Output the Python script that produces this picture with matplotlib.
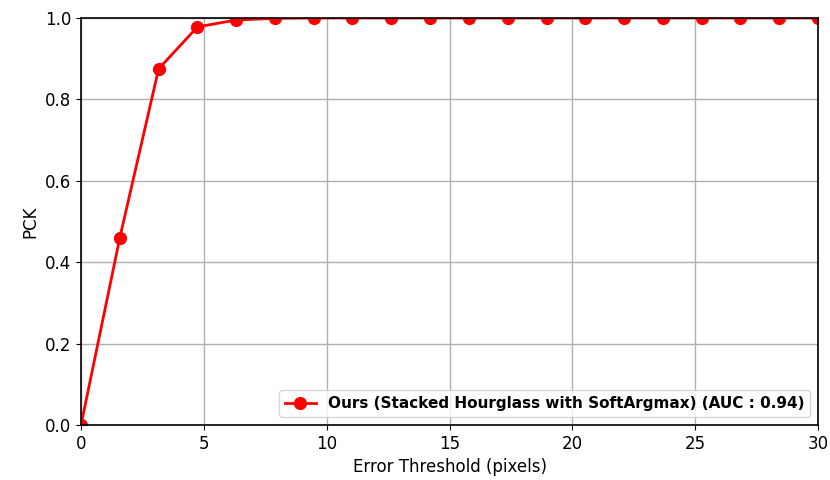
import matplotlib
matplotlib.use("Agg")
import matplotlib.pyplot as plt

# PCK curve (20 thresholds over 0..30 px)
thresholds = [0.0, 1.58, 3.16, 4.74, 6.32, 7.89, 9.47, 11.05, 12.63, 14.21,
              15.79, 17.37, 18.95, 20.53, 22.11, 23.68, 25.26, 26.84, 28.42, 30.0]
pck = [0.0, 0.46, 0.875, 0.978, 0.995, 0.999, 1.0, 1.0, 1.0, 1.0,
       1.0, 1.0, 1.0, 1.0, 1.0, 1.0, 1.0, 1.0, 1.0, 1.0]
label = "Ours (Stacked Hourglass with SoftArgmax) (AUC : 0.94)"

fig = plt.figure(figsize=(8.3, 4.8), dpi=100)
ax = fig.add_axes([0.0976, 0.1146, 0.888, 0.848])

ax.plot(thresholds, pck, color="red", marker="o", markersize=8.5, lw=2, label=label)
ax.set_xlim(0, 30)
ax.set_ylim(0, 1.0)
ax.set_xticks([0, 5, 10, 15, 20, 25, 30])
ax.set_yticks([0.0, 0.2, 0.4, 0.6, 0.8, 1.0])
ax.tick_params(labelsize=12)
ax.grid(True, color="#b0b0b0", lw=1)
ax.set_axisbelow(True)
for s in ax.spines.values():
    s.set_linewidth(1.2)
ax.set_xlabel("Error Threshold (pixels)", fontsize=12)
ax.set_ylabel("PCK", fontsize=12)
ax.legend(loc="lower right", prop={"weight": "bold", "size": 11})

fig.savefig("out.png", dpi=100)
